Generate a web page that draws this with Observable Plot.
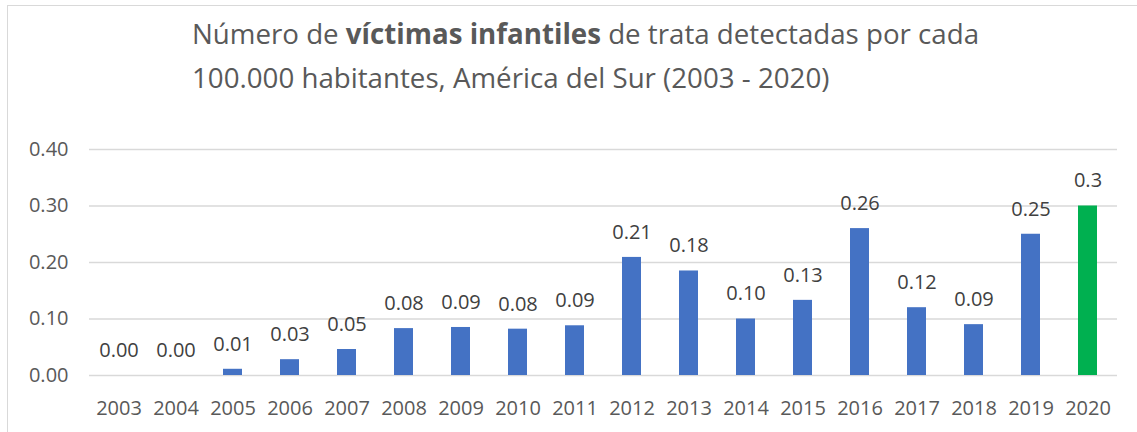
<!DOCTYPE html>
<html>
<head>
<meta charset="utf-8">
<script src="https://cdn.jsdelivr.net/npm/d3@7"></script>
<script src="https://cdn.jsdelivr.net/npm/@observablehq/plot@0.6"></script>
<style>
  html, body { margin: 0; padding: 0; width: 1137px; height: 432px; overflow: hidden; background: #fff; }
  #frame { position: absolute; left: 7px; top: 5px; width: 1300px; height: 600px; border: 1.5px solid #d9d9d9; box-sizing: border-box; }
  #title { position: absolute; left: 192px; top: 11px; font-family: "Open Sans", sans-serif; font-size: 27.7px; line-height: 44px; color: #595959; white-space: nowrap; }
  #title b { font-weight: 700; }
  #chart { position: absolute; left: 0; top: 130px; }
</style>
</head>
<body>
<div id="frame"></div>
<div id="title">Número de <b>víctimas infantiles</b> de trata detectadas por cada<br>100.000 habitantes, América del Sur (2003 - 2020)</div>
<div id="chart"></div>
<script>
const years = ["2003","2004","2005","2006","2007","2008","2009","2010","2011","2012","2013","2014","2015","2016","2017","2018","2019","2020"];
const values = [0.000, 0.000, 0.011, 0.028, 0.046, 0.083, 0.085, 0.082, 0.088, 0.209, 0.185, 0.100, 0.133, 0.260, 0.120, 0.090, 0.250, 0.300];
const labels = ["0.00","0.00","0.01","0.03","0.05","0.08","0.09","0.08","0.09","0.21","0.18","0.10","0.13","0.26","0.12","0.09","0.25","0.3"];
const yTicks = [0, 0.1, 0.2, 0.3, 0.4];
const highlightYear = "2020";

const data = years.map((year, i) => ({year, value: values[i], label: labels[i], group: year === highlightYear ? "highlight" : "main"}));

const chart = Plot.plot({
  width: 1137,
  height: 302,
  marginTop: 19,
  marginBottom: 57,
  marginLeft: 89,
  marginRight: 20,
  style: {fontFamily: "'Open Sans', sans-serif", fontSize: "20px", color: "#595959", background: "transparent"},
  x: {domain: years, paddingInner: 0.66, paddingOuter: 0.33, label: null, tickSize: 0, tickPadding: 25},
  y: {domain: [0, 0.4], ticks: yTicks, tickFormat: d3.format(".2f"), label: null, tickSize: 0, tickPadding: 21},
  color: {domain: ["main", "highlight"], range: ["#4472c4", "#00b050"]},
  marks: [
    Plot.ruleY(yTicks, {stroke: "#d9d9d9", strokeWidth: 1.5}),
    Plot.barY(data, {x: "year", y: "value", fill: "group"}),
    Plot.text(data, {x: "year", y: "value", text: "label", dy: -25, fill: "#404040", fontSize: 20})
  ]
});
document.getElementById("chart").appendChild(chart);
</script>
</body>
</html>
